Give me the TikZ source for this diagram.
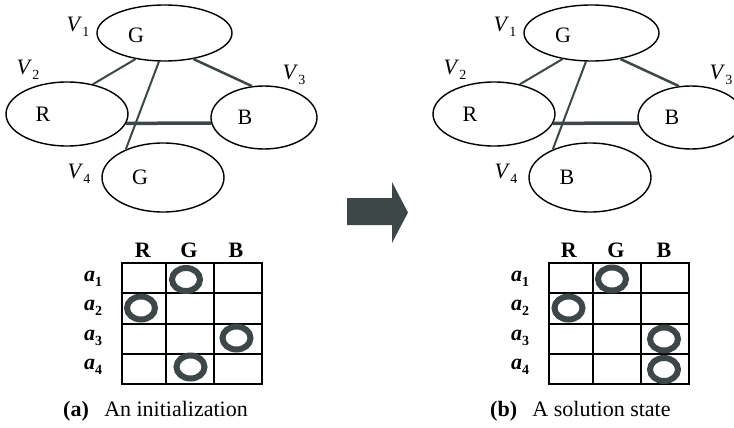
\documentclass[tikz,border=0pt]{standalone}
\usepackage{fontspec}
\setmainfont{Liberation Serif}
\usetikzlibrary{shapes.geometric}
\definecolor{slate}{HTML}{3D4747}
\newcommand{\lowidx}[1]{\raisebox{-0.45ex}{\fontsize{14}{16}\selectfont #1}}
\newcommand{\vlab}[1]{\textit{V}\lowidx{#1}}
\newcommand{\alab}[1]{\textbf{\textit{a}\lowidx{#1}}}

\begin{document}
\begin{tikzpicture}[x=1pt, y=-1pt,
    every node/.style={font=\fontsize{22}{26}\selectfont, inner sep=0pt},
    vertex/.style={draw, ellipse, line width=1.4pt},
    link/.style={draw=slate, line width=2pt},
    ring/.style={draw=slate, ellipse, line width=6pt, minimum width=28pt, minimum height=23pt},
    tab/.style={line width=1.5pt}]
      \useasboundingbox (0,0) rectangle (734,428);

      % (a) graph
      \node[vertex, minimum width=135, minimum height=56] (va1) at (164.5,33) {};
      \node[vertex, minimum width=122, minimum height=64] (va2) at (67,114) {};
      \node[vertex, minimum width=106, minimum height=63] (va3) at (264,117.5) {};
      \node[vertex, minimum width=122, minimum height=69] (va4) at (163,177.5) {};
      \node (ca1) at (136,35) {G};
      \node (ca2) at (43,114) {R};
      \node (ca3) at (245,117) {B};
      \node (ca4) at (140,177) {G};
      \node (la1) at (78,27) {\vlab{1}};
      \node (la2) at (28,70) {\vlab{2}};
      \node (la3) at (294,75) {\vlab{3}};
      \node (la4) at (79,174) {\vlab{4}};
      \draw [link] (va1.222) -- (va2.49); % V1 -> V2
      \draw [link] (va1.259) -- (va4.143); % V1 -> V4
      \draw [link, line width=2.5pt] (va1.318) -- (va3.111); % V1 -> V3
      \draw [link, line width=3.5pt] (va2.351) -- (va3.186); % V2 -> V3

      % (a) table
      \draw [tab] (122,263) rectangle (262,384);
      \draw [tab] (166,263) -- (166,384);
      \draw [tab] (214,263) -- (214,384);
      \draw [tab] (122,293) -- (262,293);
      \draw [tab] (122,324) -- (262,324);
      \draw [tab] (122,354) -- (262,354);
      \node (ha1) at (143,250) {\textbf{R}};
      \node (ha2) at (189,250) {\textbf{G}};
      \node (ha3) at (236,250) {\textbf{B}};
      \node (ra1) at (93,279) {\alab{1}};
      \node (ra2) at (93,308) {\alab{2}};
      \node (ra3) at (93,338) {\alab{3}};
      \node (ra4) at (93,367) {\alab{4}};
      \node[ring] (qa1) at (186,279.5) {};
      \node[ring] (qa2) at (141,308) {};
      \node[ring] (qa3) at (236.5,338) {};
      \node[ring] (qa4) at (190.5,367) {};
      \node[anchor=west] (capa) at (63,411) {\textbf{(a)}\hspace{0.45em} An initialization};

      % big arrow
      \fill [slate] (347,198) -- (392,198) -- (392,182) -- (408,212.5) -- (392,243) -- (392,225) -- (347,225) -- cycle;

      % (b) graph
      \node[vertex, minimum width=135, minimum height=56] (vb1) at (591.5,33) {};
      \node[vertex, minimum width=122, minimum height=64] (vb2) at (494,114) {};
      \node[vertex, minimum width=106, minimum height=63] (vb3) at (691,117.5) {};
      \node[vertex, minimum width=122, minimum height=69] (vb4) at (590,177.5) {};
      \node (cb1) at (563,35) {G};
      \node (cb2) at (470,114) {R};
      \node (cb3) at (672,117) {B};
      \node (cb4) at (567,177) {B};
      \node (lb1) at (505,27) {\vlab{1}};
      \node (lb2) at (455,70) {\vlab{2}};
      \node (lb3) at (721,75) {\vlab{3}};
      \node (lb4) at (506,174) {\vlab{4}};
      \draw [link] (vb1.222) -- (vb2.49); % V1 -> V2
      \draw [link] (vb1.259) -- (vb4.143); % V1 -> V4
      \draw [link, line width=2.5pt] (vb1.318) -- (vb3.111); % V1 -> V3
      \draw [link, line width=3.5pt] (vb2.351) -- (vb3.186); % V2 -> V3

      % (b) table
      \draw [tab] (549,263) rectangle (689,384);
      \draw [tab] (593,263) -- (593,384);
      \draw [tab] (641,263) -- (641,384);
      \draw [tab] (549,293) -- (689,293);
      \draw [tab] (549,324) -- (689,324);
      \draw [tab] (549,354) -- (689,354);
      \node (hb1) at (569,250) {\textbf{R}};
      \node (hb2) at (616,250) {\textbf{G}};
      \node (hb3) at (664,250) {\textbf{B}};
      \node (rb1) at (520,279) {\alab{1}};
      \node (rb2) at (520,308) {\alab{2}};
      \node (rb3) at (520,338) {\alab{3}};
      \node (rb4) at (520,367) {\alab{4}};
      \node[ring] (qb1) at (612,279) {};
      \node[ring] (qb2) at (568.5,308) {};
      \node[ring] (qb3) at (664,339) {};
      \node[ring] (qb4) at (664,369.5) {};
      \node[anchor=west] (capb) at (490,411) {\textbf{(b)}\hspace{0.45em} A solution state};
    \end{tikzpicture}
\end{document}
